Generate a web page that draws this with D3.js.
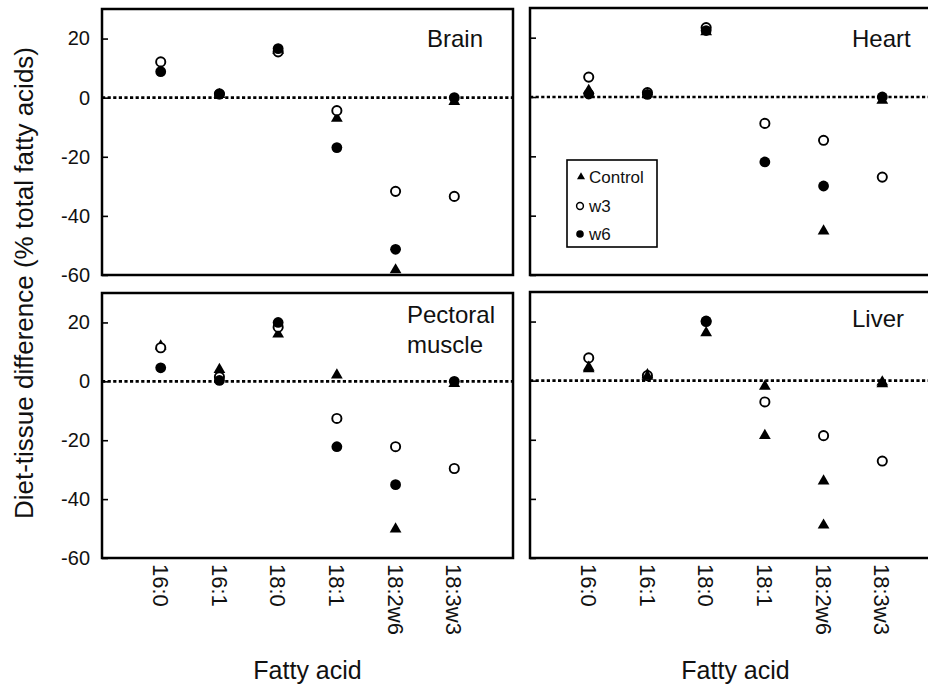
<!DOCTYPE html>
<html>
<head>
<meta charset="utf-8">
<script src="https://cdn.jsdelivr.net/npm/d3@7/dist/d3.min.js"></script>
<style>
  body { margin: 0; background: #fff; }
  svg { display: block; font-family: "Liberation Sans", Arial, Helvetica, sans-serif; }
</style>
</head>
<body>
<div id="chart"></div>
<script>
// fatty acids on the x axis, in order
var fattyAcids = ["16:0", "16:1", "18:0", "18:1", "18:2w6", "18:3w3"];
var yTicks = [20, 0, -20, -40, -60];

// diet-tissue difference (% total fatty acids)
// null = point hidden behind another mark in the figure
var brainControl = [null, 1, 16, -7, -58.3, -1.3];
var brainW3      = [12.1, 1.3, 15.5, -4.4, -31.7, -33.4];
var brainW6      = [8.8, 1.2, 16.6, -16.9, -51.3, 0];

var heartControl = [2.2, 1, 22, null, -45.2, -1.1];
var heartW3      = [6.7, 1.5, 23.4, -8.9, -14.6, -27];
var heartW6      = [1, 0.9, 22.4, -21.9, -30, 0];

var pectoralControl = [12, 4, 16, 2.1, -50.2, -0.8];
var pectoralW3      = [11.4, 1.5, 18.4, -12.6, -22.2, -29.6];
var pectoralW6      = [4.6, 0.3, 20, -22.2, -35.1, 0];

var liverControl = [4, 2, 16.2, -1.9, -48.9, -1.1];
var liverW3      = [7.7, 1.7, 20, -7.2, -18.6, -27.2];
var liverW6      = [4.5, 1.5, 20.2, -18.6, -34, -0.5];
// in the printed liver panel most w6 points came out as triangles
var liverW6Marks = ["triangle", "triangle", "circle", "triangle", "triangle", "triangle"];

var legendLabels = ["Control", "w3", "w6"];

var width = 928, height = 686;

var svg = d3.select("#chart").append("svg")
	.attr("width", width)
	.attr("height", height);

var panels = [
	{ name: ["Brain"], x0: 102, x1: 513, y0: 9, y1: 275, labels: true, tx: 427, ty: 47,
	  control: brainControl, w3: brainW3, w6: brainW6 },
	{ name: ["Heart"], x0: 530, x1: 941, y0: 8, y1: 275, labels: false, tx: 852, ty: 47,
	  control: heartControl, w3: heartW3, w6: heartW6, legend: true },
	{ name: ["Pectoral", "muscle"], x0: 102, x1: 513, y0: 293, y1: 558, labels: true, tx: 407, ty: 323,
	  control: pectoralControl, w3: pectoralW3, w6: pectoralW6, bottom: true },
	{ name: ["Liver"], x0: 530, x1: 941, y0: 292, y1: 558, labels: false, tx: 852, ty: 327,
	  control: liverControl, w3: liverW3, w6: liverW6, w6Marks: liverW6Marks, bottom: true }
];

var tri = d3.symbol().type(d3.symbolTriangle).size(60);
var triSmall = d3.symbol().type(d3.symbolTriangle).size(28);

panels.forEach(function(p)
{
	var x = d3.scaleLinear().domain([0, fattyAcids.length + 1]).range([p.x0, p.x1]);
	var y = d3.scaleLinear().domain([-60, 30]).range([p.y1, p.y0]);
	var g = svg.append("g");

	// y axis with inward ticks, plain hyphen minus like the original
	var yAxis = d3.axisLeft(y).tickValues(yTicks).tickSize(-6).tickPadding(12)
		.tickFormat(p.labels ? function(d) { return String(d); } : "");
	var ax = g.append("g")
		.attr("transform", "translate(" + p.x0 + ",0)")
		.call(yAxis);
	ax.attr("font-family", null).attr("font-size", null);
	ax.select(".domain").remove();
	ax.selectAll("line").attr("stroke", "#000").attr("stroke-width", 1.6);
	ax.selectAll("text").style("font-size", "20px").attr("fill", "#111");

	// zero reference line
	g.append("line")
		.attr("x1", p.x0).attr("x2", p.x1)
		.attr("y1", y(0)).attr("y2", y(0))
		.attr("stroke", "#000")
		.attr("stroke-width", 2.6)
		.attr("stroke-dasharray", "3.2,2.4");

	var idx = fattyAcids.map(function(d, i) { return i; });

	// Control: filled triangles
	g.selectAll(".ctl").data(idx.filter(function(i) { return p.control[i] != null; })).enter().append("path")
		.attr("d", tri)
		.attr("transform", function(i) { return "translate(" + x(i + 1) + "," + y(p.control[i]) + ")"; })
		.attr("fill", "#000");

	// w3: open circles
	g.selectAll(".w3").data(idx).enter().append("circle")
		.attr("cx", function(i) { return x(i + 1); })
		.attr("cy", function(i) { return y(p.w3[i]); })
		.attr("r", 4.6)
		.attr("fill", "#fff")
		.attr("stroke", "#000")
		.attr("stroke-width", 1.9);

	// w6: filled circles (or triangles where the figure printed them so)
	idx.forEach(function(i)
	{
		var mark = p.w6Marks ? p.w6Marks[i] : "circle";
		if (mark == "triangle") {
			g.append("path")
				.attr("d", tri)
				.attr("transform", "translate(" + x(i + 1) + "," + y(p.w6[i]) + ")")
				.attr("fill", "#000");
		} else {
			g.append("circle")
				.attr("cx", x(i + 1))
				.attr("cy", y(p.w6[i]))
				.attr("r", 5.4)
				.attr("fill", "#000");
		}
	});

	// frame
	g.append("rect")
		.attr("x", p.x0).attr("y", p.y0)
		.attr("width", p.x1 - p.x0).attr("height", p.y1 - p.y0)
		.attr("fill", "none")
		.attr("stroke", "#000")
		.attr("stroke-width", 2.5);

	// panel title
	var title = g.append("text")
		.attr("x", p.tx).attr("y", p.ty)
		.style("font-size", "24px")
		.attr("fill", "#111");
	p.name.forEach(function(line, k)
	{
		title.append("tspan").attr("x", p.tx).attr("dy", k == 0 ? 0 : 30).text(line);
	});

	if (p.bottom) {
		g.selectAll(".xl").data(idx).enter().append("text")
			.attr("transform", function(i) { return "translate(" + x(i + 1) + "," + (p.y1 + 6) + ") rotate(90)"; })
			.attr("dy", "0.36em")
			.style("font-size", "22px")
			.attr("fill", "#111")
			.text(function(i) { return fattyAcids[i]; });

		g.append("text")
			.attr("x", (p.x0 + p.x1) / 2)
			.attr("y", 679)
			.attr("text-anchor", "middle")
			.style("font-size", "25px")
			.attr("fill", "#111")
			.text("Fatty acid");
	}

	if (p.legend) {
		var lg = g.append("g").attr("transform", "translate(567,160)");
		lg.append("rect")
			.attr("width", 90).attr("height", 87)
			.attr("fill", "#fff")
			.attr("stroke", "#000")
			.attr("stroke-width", 1.6);
		var rows = [17, 46, 74];
		lg.append("path").attr("d", triSmall).attr("transform", "translate(14," + rows[0] + ")").attr("fill", "#000");
		lg.append("circle").attr("cx", 13).attr("cy", rows[1]).attr("r", 3.4)
			.attr("fill", "#fff").attr("stroke", "#000").attr("stroke-width", 1.5);
		lg.append("circle").attr("cx", 13).attr("cy", rows[2]).attr("r", 3.8).attr("fill", "#000");
		lg.selectAll(".lt").data(legendLabels).enter().append("text")
			.attr("x", 22)
			.attr("y", function(d, i) { return rows[i] + 6; })
			.style("font-size", "17px")
			.attr("fill", "#111")
			.text(function(d) { return d; });
	}
});

// shared y axis title
svg.append("text")
	.attr("transform", "translate(33,283) rotate(-90)")
	.attr("text-anchor", "middle")
	.style("font-size", "26px")
	.attr("fill", "#111")
	.text("Diet-tissue difference (% total fatty acids)");
</script>
</body>
</html>
